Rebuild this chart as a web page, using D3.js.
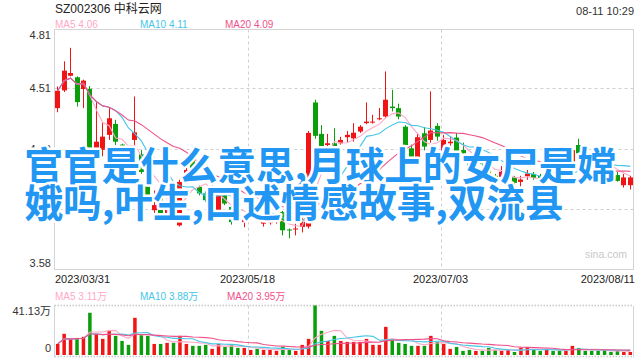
<!DOCTYPE html>
<html>
<head>
<meta charset="utf-8">
<script src="https://cdn.jsdelivr.net/npm/d3@7/dist/d3.min.js"></script>
<style>
html,body{margin:0;padding:0;background:#fff;}
svg{display:block;}
</style>
</head>
<body>
<svg id="chart" width="640" height="360"></svg>
<script>
// ---------- DATA ----------
const dates = ["2023/03/31",
"2023/04/03","2023/04/04","2023/04/06","2023/04/07","2023/04/10","2023/04/11","2023/04/12","2023/04/13","2023/04/14",
"2023/04/17","2023/04/18","2023/04/19","2023/04/20","2023/04/21","2023/04/24","2023/04/25","2023/04/26","2023/04/27","2023/04/28",
"2023/05/04","2023/05/05","2023/05/08","2023/05/09","2023/05/10","2023/05/11","2023/05/12","2023/05/15","2023/05/16","2023/05/17",
"2023/05/18","2023/05/19","2023/05/22","2023/05/23","2023/05/24","2023/05/25","2023/05/26","2023/05/29","2023/05/30","2023/05/31",
"2023/06/01","2023/06/02","2023/06/05","2023/06/06","2023/06/07","2023/06/08","2023/06/09","2023/06/12","2023/06/13","2023/06/14",
"2023/06/15","2023/06/16","2023/06/19","2023/06/20","2023/06/21","2023/06/26","2023/06/27","2023/06/28","2023/06/29","2023/06/30",
"2023/07/03","2023/07/04","2023/07/05","2023/07/06","2023/07/07","2023/07/10","2023/07/11","2023/07/12","2023/07/13","2023/07/14",
"2023/07/17","2023/07/18","2023/07/19","2023/07/20","2023/07/21","2023/07/24","2023/07/25","2023/07/26","2023/07/27","2023/07/28",
"2023/07/31","2023/08/01","2023/08/02","2023/08/03","2023/08/04","2023/08/07","2023/08/08","2023/08/09","2023/08/10","2023/08/11"];

const openP = [4.407,4.498,4.573,4.565,4.505,4.506,4.193,4.193,4.27,4.326,
4.22,4.14,4.244,4.17,4.081,3.884,3.961,3.86,3.927,3.806,
4.029,4.141,4.003,3.97,3.884,3.884,3.961,3.901,3.85,3.823,
3.85,3.88,3.815,3.818,3.823,3.875,3.785,3.785,3.798,3.80,
4.436,4.275,4.218,4.227,4.227,4.258,4.252,4.287,4.33,4.333,
4.35,4.364,4.415,4.407,4.312,4.201,4.133,4.278,4.244,4.316,
4.184,4.227,4.256,4.192,4.137,4.12,4.14,4.127,4.06,4.055,
4.052,4.052,4.029,4.058,4.07,4.06,4.03,4.08,4.075,4.072,
4.132,4.218,4.17,4.16,4.15,4.132,4.077,4.064,4.012,4.012];

const highP = [4.518,4.647,4.716,4.57,4.553,4.52,4.44,4.331,4.407,4.347,
4.225,4.16,4.467,4.192,4.09,3.985,3.97,3.92,3.94,4.04,
4.10,4.15,4.01,3.98,4.023,3.98,3.97,3.91,3.86,3.86,
3.89,3.90,3.845,3.845,3.84,3.88,3.79,3.815,3.85,4.29,
4.45,4.32,4.275,4.304,4.26,4.29,4.33,4.32,4.436,4.373,
4.408,4.595,4.501,4.43,4.32,4.22,4.28,4.31,4.493,4.33,
4.27,4.26,4.28,4.23,4.155,4.145,4.15,4.14,4.07,4.11,
4.065,4.06,4.06,4.09,4.08,4.07,4.08,4.09,4.085,4.11,
4.21,4.25,4.18,4.17,4.16,4.15,4.10,4.08,4.07,4.06];

const lowP = [4.386,4.49,4.57,4.415,4.407,4.17,4.158,4.16,4.244,4.218,
4.13,4.05,4.20,4.07,3.94,3.87,3.823,3.85,3.85,3.80,
4.02,4.06,3.96,3.925,3.87,3.875,3.91,3.81,3.83,3.797,
3.84,3.85,3.80,3.81,3.815,3.755,3.74,3.755,3.77,3.79,
4.25,4.18,4.20,4.184,4.22,4.23,4.235,4.28,4.325,4.328,
4.345,4.355,4.39,4.35,4.21,4.115,4.124,4.19,4.23,4.24,
4.165,4.175,4.16,4.16,4.10,4.115,4.11,4.045,4.03,4.03,
3.987,4.015,4.005,4.04,4.04,4.03,4.02,4.055,4.055,4.04,
4.115,4.155,4.14,4.13,4.12,4.06,4.05,4.03,4.00,3.99];

const closeP = [4.496,4.599,4.587,4.438,4.548,4.184,4.235,4.261,4.355,4.235,
4.15,4.06,4.283,4.08,3.961,3.91,3.858,3.90,3.858,4.029,
4.09,4.072,3.97,3.935,3.901,3.97,3.918,3.823,3.84,3.849,
3.87,3.855,3.836,3.836,3.836,3.781,3.78,3.79,3.824,4.28,
4.265,4.201,4.227,4.206,4.244,4.27,4.281,4.312,4.338,4.338,
4.355,4.45,4.407,4.364,4.218,4.124,4.258,4.21,4.292,4.261,
4.244,4.235,4.172,4.175,4.11,4.137,4.12,4.052,4.045,4.081,
4.058,4.024,4.041,4.072,4.05,4.04,4.072,4.065,4.065,4.089,
4.192,4.175,4.155,4.14,4.135,4.08,4.07,4.034,4.052,4.052];

// volume in 万
const volume = [9.2,17.6,13.4,14.2,15.1,35.1,17.6,13.4,20.1,15.9,
11.7,8.4,30.9,16.7,15.9,9.2,9.2,10.1,10.1,15.9,
9.2,7.6,7.6,8.4,5.1,9.2,6.7,8.4,5.9,5.9,
4.2,5.1,4.2,4.2,3.4,6.7,4.2,3.4,8.4,13.4,
41.13,20.1,11.7,15.9,11.7,10.9,10.9,10.9,13.4,8.4,
8.4,23.4,13.4,10.1,9.2,7.6,7.6,7.6,15.9,10.9,
9.2,5.1,6.7,3.4,4.2,3.4,3.4,5.9,4.2,3.4,
4.2,2.5,5.9,6.7,4.2,3.4,5.1,3.4,3.4,3.4,
7.6,5.9,3.4,3.4,3.4,4.2,2.5,3.4,2.5,2.5];

const priceTickLabels = ["4.81","4.51","4.20","3.89","3.58"];
const volTickLabels = ["41.13万","0"];
const volTickValues = [41.13, 0];
const dateTickLabels = ["2023/03/31","2023/05/18","2023/07/03","2023/08/11"];
const maPeriods = [5, 10, 20];
const maPriceLegend = ["4.06","4.11","4.09"];
const maVolLegend = ["3.11万","3.88万","3.95万"];
const stockTitle = "SZ002306 中科云网";
const timeStamp = "08-11 10:29";
const watermark = "sina.com";
const overlayTitle = "官官是什么意思,月球上的女尸是嫦娥吗,叶生,口述情感故事,双流县";

// ---------- STYLE ----------
const FONT = "'Liberation Sans', Arial, 'Noto Sans CJK SC', sans-serif";
const UP = "#f01414", DOWN = "#0a9e0a";
const maColors = ["#ffa8c8", "#45c6e6", "#f0508a"];
const frameC = "#d4d4d4", gridC = "#cfcfcf";

const svg = d3.select("#chart");
const L = 54.5, R = 633.5, T = 29.5, B = 269.5;
const VT = 305.5, VB = 355.5;

const x = d3.scaleBand().domain(dates).range([L, R]).padding(0);
const cx = d => x(d) + x.bandwidth() / 2;
const y = d3.scaleLinear().domain([3.58, 4.81]).range([B, T]);
const yv = d3.scaleLinear().domain([0, 41.13]).range([VB - 0.5, VT]);

// ---------- HEADER ----------
svg.append("text").attr("x", 55).attr("y", 12.5).attr("font-family", FONT)
  .attr("font-size", 12).attr("fill", "#222").text(stockTitle);
svg.append("text").attr("x", 634).attr("y", 14.5).attr("text-anchor", "end")
  .attr("font-family", FONT).attr("font-size", 11).attr("fill", "#333").text(timeStamp);

const legX = [55, 140, 225];
maPeriods.forEach((p, i) => {
  svg.append("text").attr("x", legX[i]).attr("y", 27.5).attr("font-family", FONT)
    .attr("font-size", 10).attr("fill", maColors[i]).text("MA" + p + " " + maPriceLegend[i]);
  svg.append("text").attr("x", legX[i] + (i === 2 ? 2 : 0)).attr("y", 299.5).attr("font-family", FONT)
    .attr("font-size", 10).attr("fill", maColors[i]).text("MA" + p + " " + maVolLegend[i]);
});

// ---------- PRICE PANEL GRID ----------
const gMain = svg.append("g");
const gridDates = [dateTickLabels[1], dateTickLabels[2]];
priceTickLabels.slice(1, -1).forEach(t => {
  const yy = Math.round(y(+t)) + 0.5;
  gMain.append("line").attr("x1", L).attr("x2", R).attr("y1", yy).attr("y2", yy)
    .attr("stroke", gridC).attr("stroke-dasharray", "3,3");
});
gridDates.forEach(d => {
  const xx = Math.round(x(d)) + 0.5;
  gMain.append("line").attr("x1", xx).attr("x2", xx).attr("y1", T).attr("y2", B)
    .attr("stroke", gridC).attr("stroke-dasharray", "3,3");
  svg.append("line").attr("x1", xx).attr("x2", xx).attr("y1", VT).attr("y2", VB)
    .attr("stroke", gridC).attr("stroke-dasharray", "3,3");
});
gMain.append("rect").attr("x", L).attr("y", T).attr("width", R - L).attr("height", B - T)
  .attr("fill", "none").attr("stroke", frameC);

priceTickLabels.forEach((t, i) => {
  let yy = y(+t) + 4;
  if (i === 0) yy = T + 9.5;
  if (i === priceTickLabels.length - 1) yy = B - 2.5;
  svg.append("text").attr("x", 51).attr("y", yy).attr("text-anchor", "end")
    .attr("font-family", FONT).attr("font-size", 11).attr("fill", "#333").text(t);
});

const anchors = ["start", "middle", "middle", "end"];
dateTickLabels.forEach((d, i) => {
  let xx = x(d);
  if (i === 0) xx = 55;
  if (i === dateTickLabels.length - 1) xx = 635;
  svg.append("text").attr("x", xx).attr("y", 283).attr("text-anchor", anchors[i])
    .attr("font-family", FONT).attr("font-size", 11).attr("fill", "#222").text(d);
});

// ---------- CANDLES ----------
const candles = dates.map((d, i) => ({d, o: openP[i], h: highP[i], l: lowP[i], c: closeP[i], v: volume[i]}));
const gC = svg.append("g");
candles.forEach(k => {
  const col = k.c >= k.o ? UP : DOWN;
  const left = Math.round(cx(k.d) - 2.5);
  const wx = left + 2.5;
  gC.append("line").attr("x1", wx).attr("x2", wx).attr("y1", y(k.h)).attr("y2", y(k.l))
    .attr("stroke", col).attr("stroke-width", 1);
  const top = y(Math.max(k.o, k.c)), bot = y(Math.min(k.o, k.c));
  gC.append("rect").attr("x", left).attr("y", top).attr("width", 5)
    .attr("height", Math.max(1, bot - top)).attr("fill", col);
});

function movingAvg(arr, n) {
  return arr.map((_, i) => d3.mean(arr.slice(Math.max(0, i - n + 1), i + 1)));
}
maPeriods.forEach((p, i) => {
  const m = movingAvg(closeP, p);
  const line = d3.line().x((v, j) => cx(dates[j])).y(v => y(v));
  svg.append("path").attr("d", line(m)).attr("fill", "none")
    .attr("stroke", maColors[i]).attr("stroke-width", 1.1);
});

svg.append("text").attr("x", 627).attr("y", 258).attr("text-anchor", "end")
  .attr("font-family", FONT).attr("font-size", 10.5).attr("fill", "#c8c8c8").text(watermark);

// ---------- VOLUME PANEL ----------
svg.append("line").attr("x1", L).attr("x2", R).attr("y1", VT).attr("y2", VT)
  .attr("stroke", "#c8c8c8").attr("stroke-width", 1.5).attr("stroke-dasharray", "1.5,1.5");
svg.append("line").attr("x1", L).attr("x2", R).attr("y1", VB + 1).attr("y2", VB + 1)
  .attr("stroke", "#c8c8c8").attr("stroke-width", 1.5).attr("stroke-dasharray", "1.5,1.5");
svg.append("line").attr("x1", L).attr("x2", L).attr("y1", VT).attr("y2", VB + 2).attr("stroke", frameC);
svg.append("line").attr("x1", R).attr("x2", R).attr("y1", VT).attr("y2", VB + 2).attr("stroke", frameC);

candles.forEach(k => {
  const col = k.c >= k.o ? UP : DOWN;
  svg.append("rect").attr("x", cx(k.d) - 1.75).attr("y", yv(k.v)).attr("width", 3.5)
    .attr("height", yv(0) - yv(k.v)).attr("fill", col);
});
maPeriods.forEach((p, i) => {
  const m = movingAvg(volume, p);
  const line = d3.line().x((v, j) => cx(dates[j])).y(v => yv(v));
  svg.append("path").attr("d", line(m)).attr("fill", "none")
    .attr("stroke", maColors[i]).attr("stroke-width", 1.1);
});
volTickLabels.forEach((t, i) => {
  const yy = i === 0 ? 315 : 352;
  svg.append("text").attr("x", 51).attr("y", yy).attr("text-anchor", "end")
    .attr("font-family", FONT).attr("font-size", 11).attr("fill", "#333").text(t);
});

// ---------- OVERLAY TITLE ----------
const OV_FONT = "'Noto Sans CJK SC', 'Noto Sans', sans-serif";
const ovSize = 38.6, ovX = 24.5, ovY = 180, ovLH = 37, ovMax = 600;
const meas = svg.append("text").attr("font-family", OV_FONT).attr("font-size", ovSize)
  .attr("font-weight", 700).attr("visibility", "hidden");
const lines = [];
let cur = "";
for (const ch of overlayTitle) {
  meas.text(cur + ch);
  if (cur && meas.node().getComputedTextLength() > ovMax) { lines.push(cur); cur = ch; }
  else cur += ch;
}
if (cur) lines.push(cur);
meas.remove();
lines.forEach((ln, i) => {
  svg.append("text").attr("x", ovX).attr("y", ovY + i * ovLH)
    .attr("font-family", OV_FONT).attr("font-size", ovSize).attr("font-weight", 700)
    .attr("fill", "#2196f3").attr("stroke", "#fff").attr("stroke-width", 5)
    .attr("stroke-linejoin", "round").attr("paint-order", "stroke").text(ln);
});
</script>
</body>
</html>
